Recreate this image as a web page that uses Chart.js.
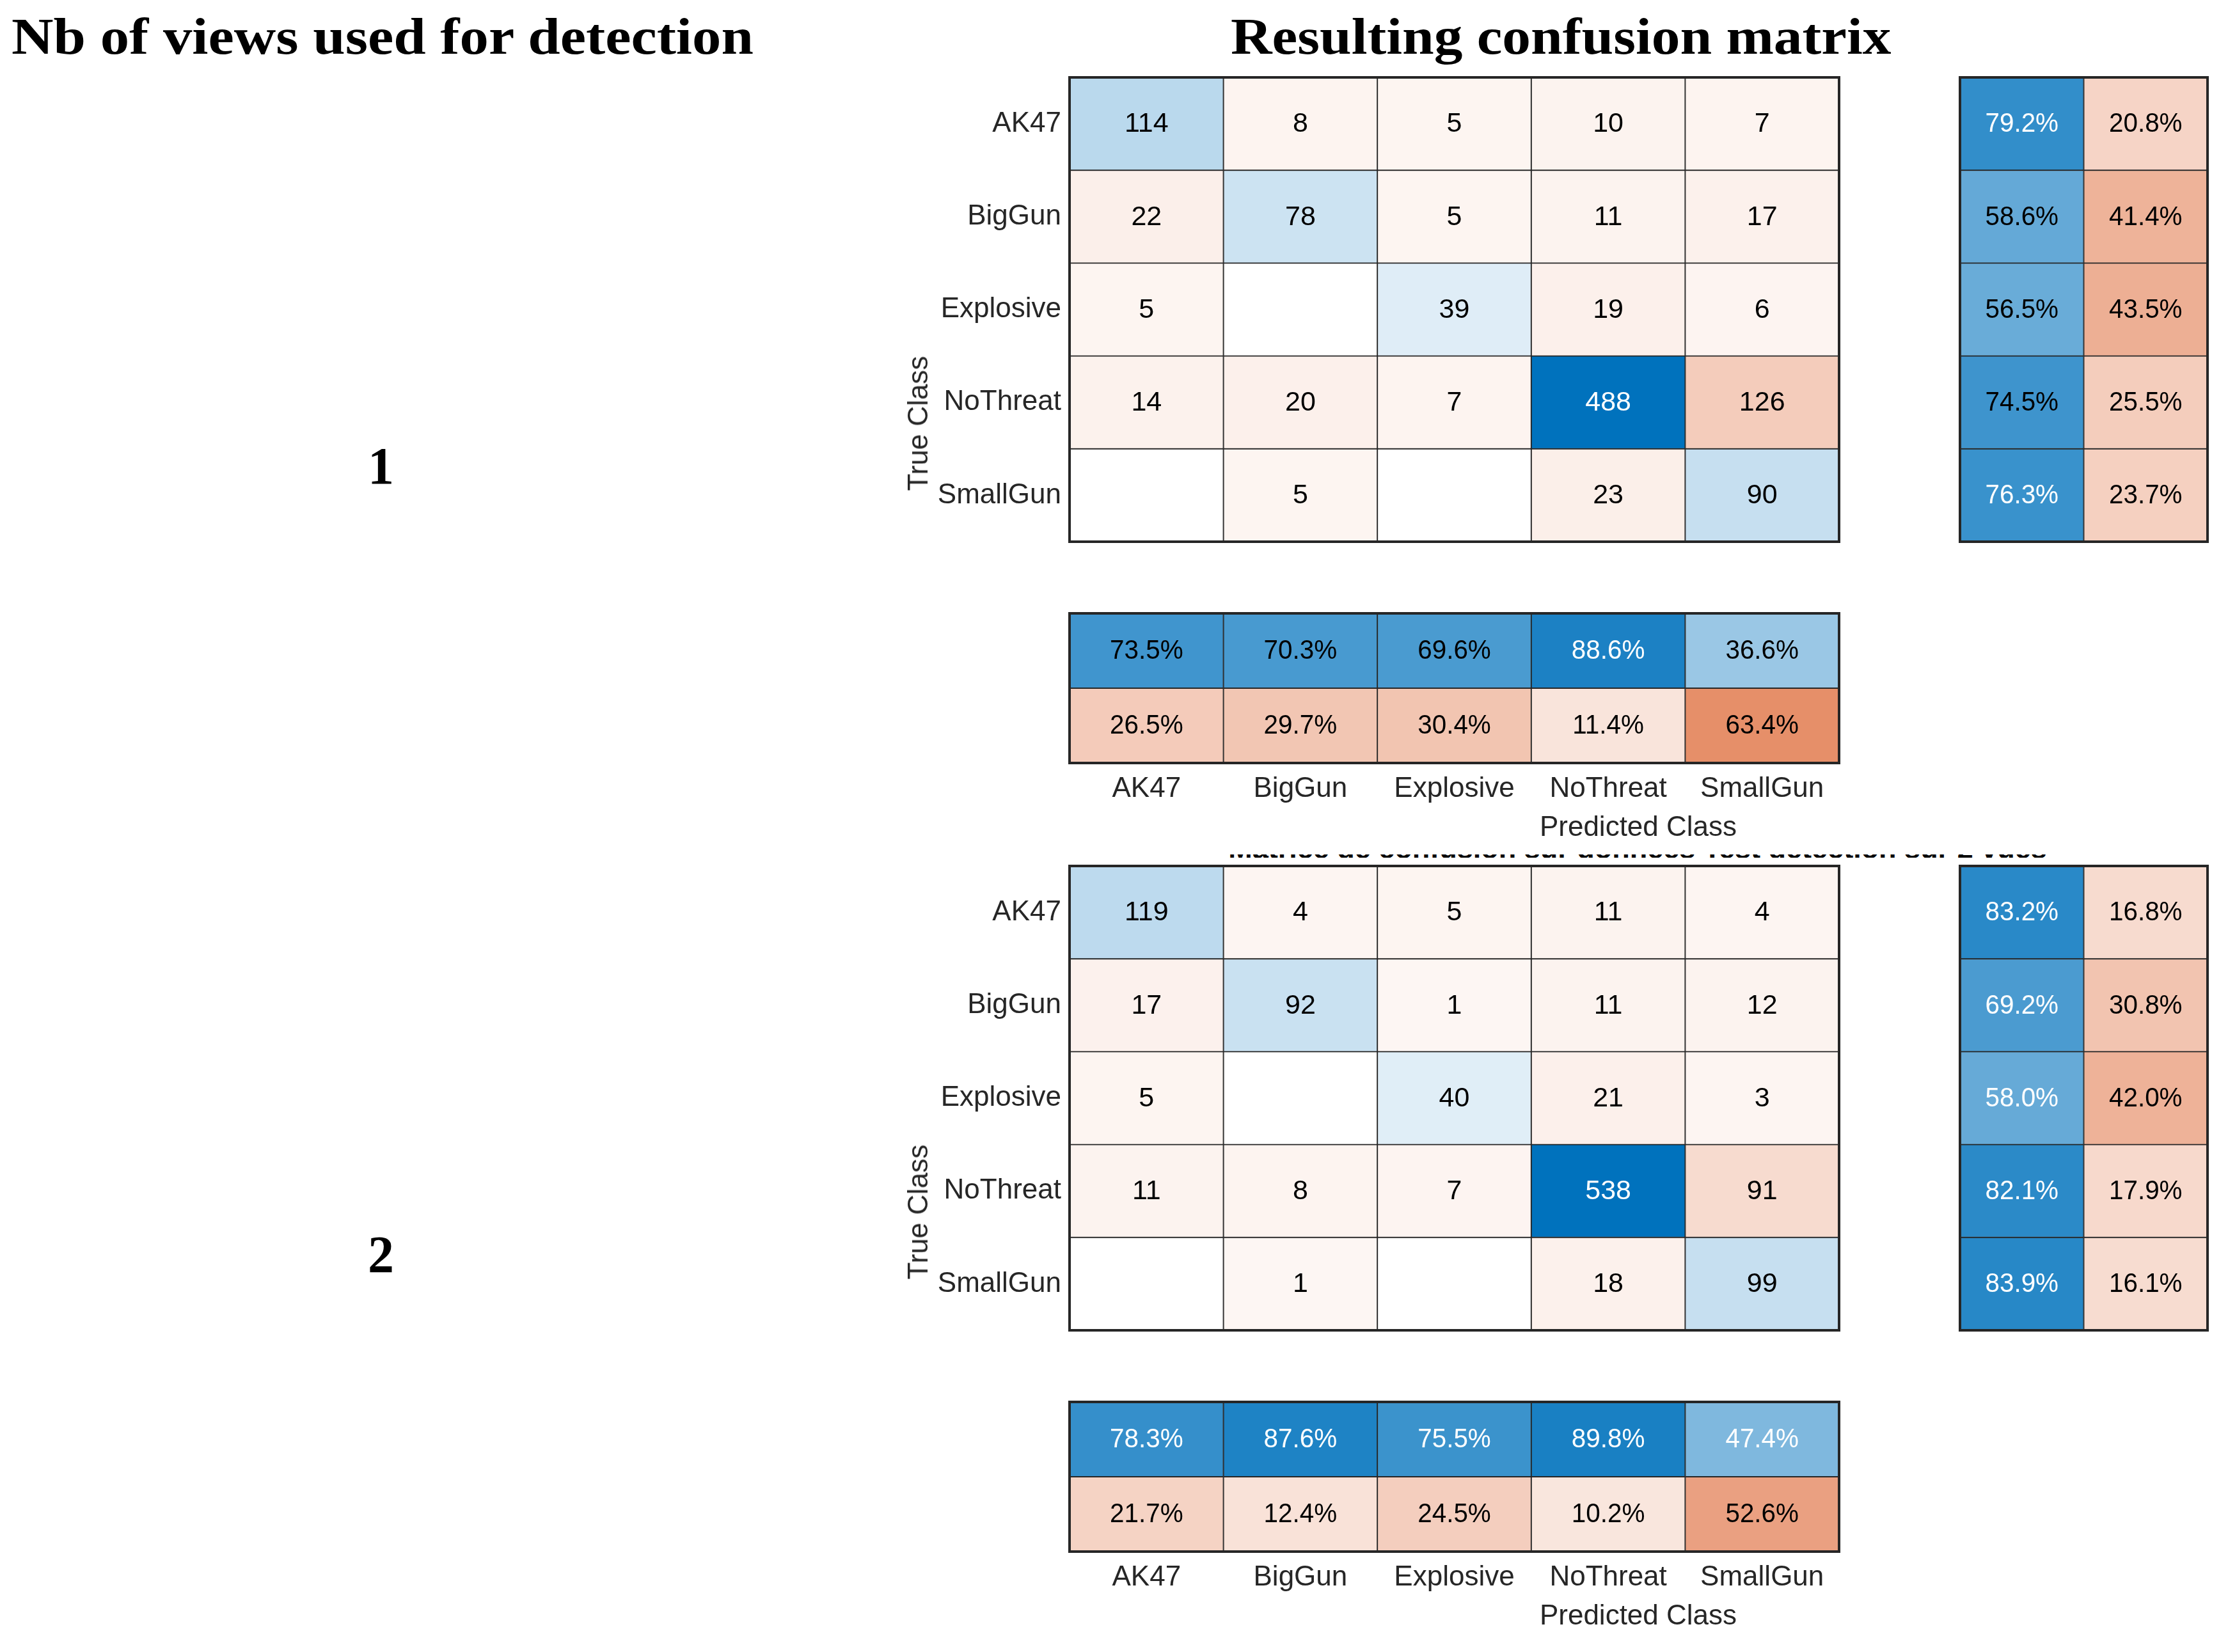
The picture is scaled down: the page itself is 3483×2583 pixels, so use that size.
<!DOCTYPE html>
<html>
<head>
<meta charset="utf-8">
<script src="https://cdn.jsdelivr.net/npm/chart.js@4.4.1/dist/chart.umd.min.js"></script>
<style>
    body { margin: 0; background: #fff; width: 3483px; height: 2583px; position: relative; overflow: hidden; }
    canvas { position: absolute; }
    .serif { position: absolute; font-family: "Liberation Serif", serif; font-weight: bold; font-size: 80px; line-height: 80px; color: #000; white-space: nowrap; transform-origin: 0 0; }
    .axlbl { position: absolute; font-family: "Liberation Sans", Arial, sans-serif; font-size: 44px; line-height: 44px; color: #262626; white-space: nowrap; }
    .cut { position: absolute; overflow: hidden; }
    .cut span { position: absolute; left: 0; right: 0; text-align: center; font-family: "Liberation Sans", Arial, sans-serif; font-weight: bold; font-size: 45px; line-height: 45px; color: #000; white-space: nowrap; }
</style>
</head>
<body>

<div class="serif" id="t-left" style="left:18px; top:17px;">Nb of views used for detection</div>
<div class="serif" id="t-right" style="left:1924px; top:17px;">Resulting confusion matrix</div>
<div class="serif" style="left:575px; top:688px; font-size:82px; line-height:82px;">1</div>
<div class="serif" style="left:575px; top:1921px; font-size:82px; line-height:82px;">2</div>

<!-- bottom of the 2nd figure's title, mostly hidden under the 1st figure -->
<div class="cut" style="left:1880px; top:1336px; width:1360px; height:5px;">
    <span style="top:-32px;">Matrice de confusion sur données Test détection sur 2 vues</span>
</div>

<canvas id="main1" style="left:1380px; top:101px;" width="1515" height="766"></canvas>
<canvas id="row1" style="left:3044px; top:101px;" width="427" height="766"></canvas>
<canvas id="col1" style="left:1652px; top:939px;" width="1243" height="400"></canvas>
<div class="axlbl" style="left:1435px; top:662px; transform: translate(-50%, -50%) rotate(-90deg);">True Class</div>
<div class="axlbl" style="left:2561px; top:1270px; transform: translateX(-50%);">Predicted Class</div>

<canvas id="main2" style="left:1380px; top:1334px;" width="1515" height="766"></canvas>
<canvas id="row2" style="left:3044px; top:1334px;" width="427" height="766"></canvas>
<canvas id="col2" style="left:1652px; top:2172px;" width="1243" height="400"></canvas>
<div class="axlbl" style="left:1435px; top:1895px; transform: translate(-50%, -50%) rotate(-90deg);">True Class</div>
<div class="axlbl" style="left:2561px; top:2503px; transform: translateX(-50%);">Predicted Class</div>

<script>
// ---- data ----
var classes = ['AK47', 'BigGun', 'Explosive', 'NoThreat', 'SmallGun'];

// 1 view
var counts1 = [
    [114, 8, 5, 10, 7],
    [22, 78, 5, 11, 17],
    [5, 0, 39, 19, 6],
    [14, 20, 7, 488, 126],
    [0, 5, 0, 23, 90]
];
var rowOk1 = [79.2, 58.6, 56.5, 74.5, 76.3];
var rowBad1 = [20.8, 41.4, 43.5, 25.5, 23.7];
var colOk1 = [73.5, 70.3, 69.6, 88.6, 36.6];
var colBad1 = [26.5, 29.7, 30.4, 11.4, 63.4];

// 2 views
var counts2 = [
    [119, 4, 5, 11, 4],
    [17, 92, 1, 11, 12],
    [5, 0, 40, 21, 3],
    [11, 8, 7, 538, 91],
    [0, 1, 0, 18, 99]
];
var rowOk2 = [83.2, 69.2, 58.0, 82.1, 83.9];
var rowBad2 = [16.8, 30.8, 42.0, 17.9, 16.1];
var colOk2 = [78.3, 87.6, 75.5, 89.8, 47.4];
var colBad2 = [21.7, 12.4, 24.5, 10.2, 52.6];

// ---- colours (matlab confusionchart style) ----
var BLUE = [0, 114, 189];
var RED = [217, 83, 25];
var GRID = '#262626';

function level(frac) {
    return frac <= 0 ? 0 : 0.05 + 0.95 * frac;
}
function tint(base, t) {
    var c = base.map(function (v) { return Math.round(255 - t * (255 - v)); });
    return 'rgb(' + c.join(',') + ')';
}
// white labels on the darker blue cells; the threshold differs between the two figures
function textColor(t, base, whiteFrom) {
    return base === BLUE && t > whiteFrom ? '#ffffff' : '#000000';
}

var cellText = {
    id: 'cellText',
    afterDatasetsDraw: function (chart) {
        var ctx = chart.ctx;
        ctx.save();
        ctx.textAlign = 'center';
        ctx.textBaseline = 'middle';
        ctx.font = '43px "Liberation Sans", Arial, sans-serif';
        chart.data.datasets.forEach(function (ds, di) {
            chart.getDatasetMeta(di).data.forEach(function (el, i) {
                var txt = ds.texts[i];
                if (!txt) return;
                var p = el.getCenterPoint();
                ctx.fillStyle = ds.textColors[i];
                ctx.save();
                ctx.translate(p.x, p.y + 1);
                if (ds.pct) ctx.scale(0.94, 1);
                ctx.fillText(txt, 0, 0);
                ctx.restore();
            });
        });
        var a = chart.chartArea;
        ctx.strokeStyle = GRID;
        ctx.lineWidth = 4;
        ctx.strokeRect(a.left, a.top, a.right - a.left, a.bottom - a.top);
        ctx.restore();
    }
};

function barDefaults(ds) {
    ds.barPercentage = 1;
    ds.categoryPercentage = 1;
    ds.grouped = false;
    ds.borderWidth = 1.3;
    ds.borderColor = GRID;
    ds.borderSkipped = false;
    return ds;
}

var tickFont = { family: '"Liberation Sans", Arial, sans-serif', size: 44 };

function baseOptions() {
    return {
        responsive: false,
        animation: false,
        events: [],
        plugins: { legend: { display: false }, tooltip: { enabled: false } }
    };
}

function mainMatrix(id, counts) {
    var max = Math.max.apply(null, counts.map(function (r) { return Math.max.apply(null, r); }));
    var datasets = classes.map(function (pc, c) {
        var lv = counts.map(function (row) { return level(row[c] / max); });
        return barDefaults({
            label: pc,
            data: classes.map(function () { return [c, c + 1]; }),
            backgroundColor: counts.map(function (row, r) { return row[c] ? tint(r === c ? BLUE : RED, lv[r]) : '#ffffff'; }),
            texts: counts.map(function (row) { return row[c] ? String(row[c]) : ''; }),
            textColors: lv.map(function (t) { return t > 0.9 ? '#ffffff' : '#000000'; })
        });
    });
    var opt = baseOptions();
    opt.indexAxis = 'y';
    opt.layout = { padding: { left: 0, top: 20, right: 20, bottom: 20 } };
    opt.scales = {
        x: { type: 'linear', min: 0, max: 5, display: false },
        y: {
            type: 'category',
            grid: { display: false, drawTicks: false },
            border: { display: false },
            ticks: { font: tickFont, color: GRID, padding: 13 },
            afterFit: function (s) { s.width = 292; s.paddingTop = 0; s.paddingBottom = 0; }
        }
    };
    return new Chart(document.getElementById(id), {
        type: 'bar',
        data: { labels: classes, datasets: datasets },
        options: opt,
        plugins: [cellText]
    });
}

function pctSet(vals, pos, base, whiteFrom) {
    var lv = vals.map(function (v) { return level(v / 100); });
    return barDefaults({
        data: vals.map(function () { return [pos, pos + 1]; }),
        backgroundColor: lv.map(function (t) { return tint(base, t); }),
        texts: vals.map(function (v) { return v.toFixed(1) + '%'; }),
        textColors: lv.map(function (t) { return textColor(t, base, whiteFrom); }),
        pct: true
    });
}

function rowSummary(id, ok, bad, whiteFrom) {
    var opt = baseOptions();
    opt.indexAxis = 'y';
    opt.layout = { padding: 20 };
    opt.scales = {
        x: { type: 'linear', min: 0, max: 2, display: false },
        y: { type: 'category', display: false }
    };
    return new Chart(document.getElementById(id), {
        type: 'bar',
        data: { labels: classes, datasets: [pctSet(ok, 0, BLUE, whiteFrom), pctSet(bad, 1, RED, whiteFrom)] },
        options: opt,
        plugins: [cellText]
    });
}

function colSummary(id, ok, bad, whiteFrom) {
    var opt = baseOptions();
    opt.indexAxis = 'x';
    opt.layout = { padding: { left: 20, top: 20, right: 20, bottom: 0 } };
    opt.scales = {
        y: { type: 'linear', min: 0, max: 2, reverse: true, display: false },
        x: {
            type: 'category',
            grid: { display: false, drawTicks: false },
            border: { display: false },
            ticks: { font: tickFont, color: GRID, padding: 14, maxRotation: 0 },
            afterFit: function (s) { s.height = 146; s.paddingLeft = 0; s.paddingRight = 0; }
        }
    };
    return new Chart(document.getElementById(id), {
        type: 'bar',
        data: { labels: classes, datasets: [pctSet(ok, 0, BLUE, whiteFrom), pctSet(bad, 1, RED, whiteFrom)] },
        options: opt,
        plugins: [cellText]
    });
}

mainMatrix('main1', counts1);
rowSummary('row1', rowOk1, rowBad1, 0.765);
colSummary('col1', colOk1, colBad1, 0.765);

mainMatrix('main2', counts2);
rowSummary('row2', rowOk2, rowBad2, 0.45);
colSummary('col2', colOk2, colBad2, 0.45);

// stretch the serif titles to the width they take in the original
function fitWidth(id, w) {
    var el = document.getElementById(id);
    el.style.transform = 'scaleX(' + (w / el.offsetWidth) + ')';
}
fitWidth('t-left', 1160);
fitWidth('t-right', 1033);
</script>
</body>
</html>
